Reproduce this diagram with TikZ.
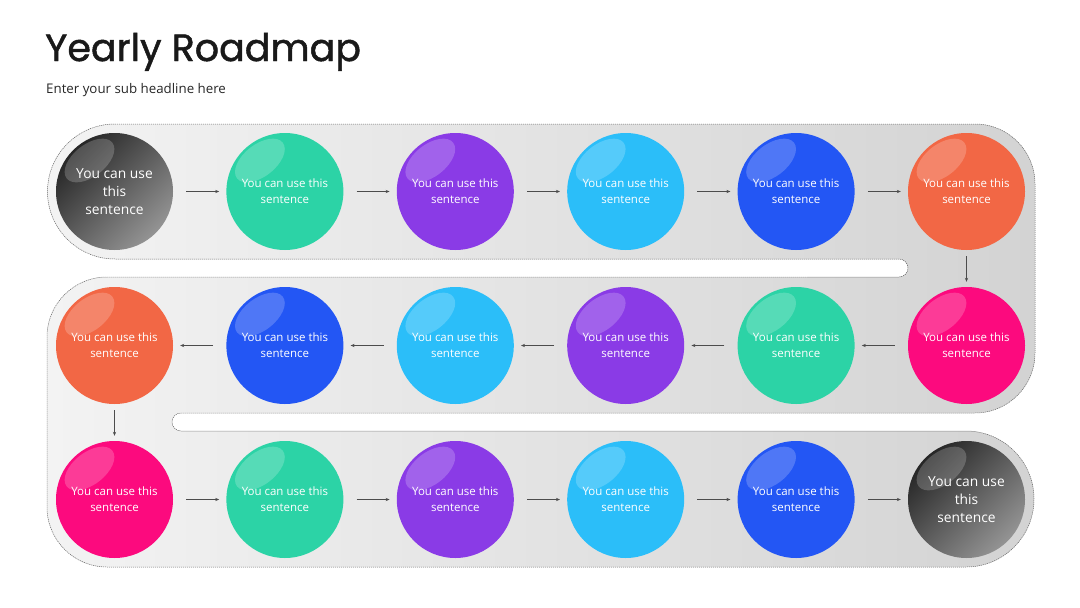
\documentclass[tikz,border=0pt]{standalone}
\usepackage{fontspec}
\setmainfont{Open Sans}
\newfontfamily\titlefont[FakeBold=1.3]{Poppins}
\usetikzlibrary{arrows.meta,calc}
\definecolor{cteal}{HTML}{2CD3A6}
\definecolor{cpurple}{HTML}{8A3BE6}
\definecolor{csky}{HTML}{2BBEF9}
\definecolor{cblue}{HTML}{2356F4}
\definecolor{corange}{HTML}{F26745}
\definecolor{cpink}{HTML}{FC0A7E}
\definecolor{bandlight}{HTML}{F3F3F3}
\definecolor{banddark}{HTML}{D3D3D3}
\tikzset{
  ball/.style={circle, inner sep=0pt, minimum size=117pt, text=white, align=center,
    font=\fontsize{11.5}{16}\selectfont},
  darkball/.style={ball, top color=black!85, bottom color=black!42, shading angle=45,
    font=\fontsize{13.8}{18}\selectfont},
  arr/.style={draw=black!70, line width=0.6pt, -{Stealth[length=4pt,width=3.2pt]}},
  hl/.style={fill=white, fill opacity=0.2}
}
\begin{document}
\begin{tikzpicture}[x=1pt,y=-1pt]
\useasboundingbox (0,0) rectangle (1080,608);
% band
\path[draw=black!60, line width=0.5pt, dash pattern=on 1.2pt off 0.8pt,
  left color=bandlight, right color=banddark]
  (115,124) -- (975,124) arc[start angle=-90, end angle=0, radius=60]
  -- (1035,353) arc[start angle=0, end angle=90, radius=60]
  -- (181,413) arc[start angle=-90, end angle=-270, radius=9]
  -- (966,431) arc[start angle=-90, end angle=90, radius=68]
  -- (107,567) arc[start angle=90, end angle=180, radius=60]
  -- (47,337) arc[start angle=180, end angle=270, radius=60]
  -- (899,277) arc[start angle=90, end angle=-90, radius=9]
  -- (115,259) arc[start angle=90, end angle=270, radius=67.5] -- cycle;
% title
\node[anchor=base west, inner sep=0pt, font=\titlefont\fontsize{38}{40}\selectfont, text=black!90] (title) at (45,61) {Yearly Roadmap};
\node[anchor=base west, inner sep=0pt, font=\fontsize{13.3}{15}\selectfont, text=black!85] (sub) at (46,93) {Enter your sub headline here};
% row 1
\node[darkball] (a1) at (114.5,191.5) {You can use\\this\\sentence};
\node[ball, fill=cteal]   (a2) at (284.9,191.5) {You can use this\\sentence};
\node[ball, fill=cpurple] (a3) at (455.3,191.5) {You can use this\\sentence};
\node[ball, fill=csky]    (a4) at (625.7,191.5) {You can use this\\sentence};
\node[ball, fill=cblue]   (a5) at (796.1,191.5) {You can use this\\sentence};
\node[ball, fill=corange] (a6) at (966.5,191.5) {You can use this\\sentence};
% row 2
\node[ball, fill=cpink]   (b6) at (966.5,345.5) {You can use this\\sentence};
\node[ball, fill=cteal]   (b5) at (796.1,345.5) {You can use this\\sentence};
\node[ball, fill=cpurple] (b4) at (625.7,345.5) {You can use this\\sentence};
\node[ball, fill=csky]    (b3) at (455.3,345.5) {You can use this\\sentence};
\node[ball, fill=cblue]   (b2) at (284.9,345.5) {You can use this\\sentence};
\node[ball, fill=corange] (b1) at (114.5,345.5) {You can use this\\sentence};
% row 3
\node[ball, fill=cpink]   (c1) at (114.5,499.5) {You can use this\\sentence};
\node[ball, fill=cteal]   (c2) at (284.9,499.5) {You can use this\\sentence};
\node[ball, fill=cpurple] (c3) at (455.3,499.5) {You can use this\\sentence};
\node[ball, fill=csky]    (c4) at (625.7,499.5) {You can use this\\sentence};
\node[ball, fill=cblue]   (c5) at (796.1,499.5) {You can use this\\sentence};
\node[darkball] (c6) at (966.5,499.5) {You can use\\this\\sentence};
% highlights
\foreach \n in {a1,a2,a3,a4,a5,a6,b1,b2,b3,b4,b5,b6,c1,c2,c3,c4,c5,c6}{
  \begin{scope}[shift={($(\n.center)+(-25,-31)$)}, rotate=38]
    \fill[hl] (0,0) ellipse[x radius=29, y radius=16];
  \end{scope}
}
% arrows
\foreach \p/\q in {a1/a2,a2/a3,a3/a4,a4/a5,a5/a6,b6/b5,b5/b4,b4/b3,b3/b2,b2/b1,c1/c2,c2/c3,c3/c4,c4/c5,c5/c6}{
  \draw[arr, shorten <=13pt, shorten >=7pt] (\p) -- (\q);
}
\draw[arr, shorten <=6pt, shorten >=5pt] (a6) -- (b6);
\draw[arr, shorten <=6pt, shorten >=5pt] (b1) -- (c1);
\end{tikzpicture}
\end{document}
